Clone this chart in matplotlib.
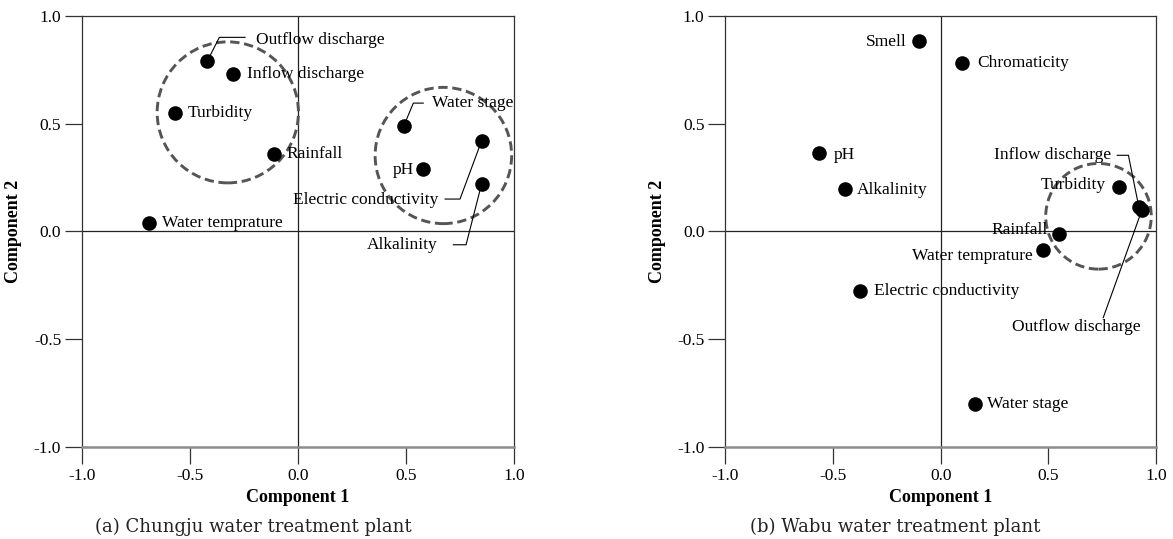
import matplotlib
matplotlib.use("Agg")
import matplotlib.pyplot as plt
from matplotlib.patches import Circle

# ---- Component loadings: Chungju water treatment plant ----
names_a = ["Outflow discharge", "Inflow discharge", "Turbidity", "Rainfall",
           "Water temprature", "Water stage", "pH", "Electric conductivity",
           "Alkalinity"]
comp1_a = [-0.42, -0.30, -0.57, -0.11, -0.69, 0.49, 0.58, 0.85, 0.85]
comp2_a = [0.79, 0.73, 0.55, 0.36, 0.04, 0.49, 0.29, 0.42, 0.22]

# ---- Component loadings: Wabu water treatment plant ----
names_b = ["Smell", "Chromaticity", "pH", "Alkalinity", "Inflow discharge",
           "Turbidity", "Outflow discharge", "Rainfall", "Water temprature",
           "Electric conductivity", "Water stage"]
comp1_b = [-0.10, 0.10, -0.565, -0.445, 0.92, 0.83, 0.935, 0.55, 0.475,
           -0.375, 0.16]
comp2_b = [0.885, 0.78, 0.365, 0.195, 0.115, 0.205, 0.10, -0.01, -0.085,
           -0.275, -0.80]

ticks = [-1.0, -0.5, 0.0, 0.5, 1.0]
tick_labels = ["-1.0", "-0.5", "0.0", "0.5", "1.0"]
titles = ["(a) Chungju water treatment plant", "(b) Wabu water treatment plant"]

# label placement: name -> (x, y, ha, leader bend points)
labels_a = {
    "Outflow discharge": (-0.195, 0.89, "left", [(-0.364, 0.90), (-0.245, 0.90)]),
    "Inflow discharge": (-0.236, 0.73, "left", None),
    "Turbidity": (-0.51, 0.55, "left", None),
    "Rainfall": (-0.054, 0.36, "left", None),
    "Water temprature": (-0.63, 0.04, "left", None),
    "Water stage": (0.619, 0.595, "left", [(0.534, 0.595), (0.58, 0.595)]),
    "pH": (0.539, 0.285, "right", None),
    "Electric conductivity": (0.65, 0.145, "right", [(0.75, 0.15), (0.681, 0.15)]),
    "Alkalinity": (0.645, -0.062, "right", [(0.778, -0.062), (0.719, -0.062)]),
}
labels_b = {
    "Smell": (-0.16, 0.88, "right", None),
    "Chromaticity": (0.17, 0.78, "left", None),
    "pH": (-0.495, 0.355, "left", None),
    "Alkalinity": (-0.388, 0.19, "left", None),
    "Inflow discharge": (0.79, 0.356, "right", [(0.872, 0.353), (0.82, 0.353)]),
    "Turbidity": (0.768, 0.214, "right", None),
    "Outflow discharge": (0.63, -0.444, "center", [(0.755, -0.40)]),
    "Rainfall": (0.497, 0.008, "right", None),
    "Water temprature": (0.429, -0.113, "right", None),
    "Electric conductivity": (-0.309, -0.278, "left", None),
    "Water stage": (0.214, -0.80, "left", None),
}
groups_a = [(-0.325, 0.552, 0.327), (0.673, 0.352, 0.316)]
groups_b = [(0.733, 0.07, 0.245)]

SERIF = ["Liberation Serif", "DejaVu Serif"]
plt.rcParams["font.family"] = SERIF

fig = plt.figure(figsize=(11.73, 5.39), dpi=100)
ax_a = fig.add_axes([0.0699, 0.1707, 0.3683, 0.800])
ax_b = fig.add_axes([0.6183, 0.1707, 0.3672, 0.800])


def draw_panel(ax, names, c1, c2, labels, groups):
    ax.set_xlim(-1, 1)
    ax.set_ylim(-1, 1)
    ax.axhline(0, color="#222222", lw=0.9, zorder=1)
    ax.axvline(0, color="#222222", lw=0.9, zorder=1)
    for cx, cy, r in groups:
        ax.add_patch(Circle((cx, cy), r, fill=False, edgecolor="#555555",
                            lw=2.1, linestyle=(0, (3.2, 1.6)), zorder=2))
    ax.scatter(c1, c2, s=110, color="black", zorder=4, linewidths=0)
    for name, x, y in zip(names, c1, c2):
        tx, ty, ha, leader = labels[name]
        if leader:
            xs = [x] + [p[0] for p in leader]
            ys = [y] + [p[1] for p in leader]
            ax.plot(xs, ys, color="black", lw=0.8, zorder=3)
        ax.text(tx, ty, name, ha=ha, va="center", fontsize=12.5, zorder=5)
    ax.set_xticks(ticks)
    ax.set_xticklabels(tick_labels)
    ax.set_yticks(ticks)
    ax.set_yticklabels(tick_labels)
    ax.tick_params(direction="out", length=12, width=0.9, colors="#333333",
                   labelsize=12.5, labelcolor="black", pad=3)
    for side in ["top", "left", "right"]:
        ax.spines[side].set_color("#333333")
        ax.spines[side].set_linewidth(0.9)
    ax.spines["bottom"].set_color("#8c8c8c")
    ax.spines["bottom"].set_linewidth(1.8)
    ax.set_xlabel("Component 1", fontsize=13, fontweight="bold")
    ax.set_ylabel("Component 2", fontsize=13, fontweight="bold")
    ax.xaxis.set_label_coords(0.5, -0.118)
    ax.xaxis.label.set_va("center")
    ax.yaxis.set_label_coords(-0.158, 0.5)
    ax.yaxis.label.set_va("center")


draw_panel(ax_a, names_a, comp1_a, comp2_a, labels_a, groups_a)
draw_panel(ax_b, names_b, comp1_b, comp2_b, labels_b, groups_b)

fig.text(253 / 1173, 12 / 539, titles[0], ha="center", va="center",
         fontsize=13, family=["DejaVu Serif"], color="#222222")
fig.text(895 / 1173, 12 / 539, titles[1], ha="center", va="center",
         fontsize=13, family=["DejaVu Serif"], color="#222222")

fig.savefig("out.png", dpi=100, facecolor="white")
